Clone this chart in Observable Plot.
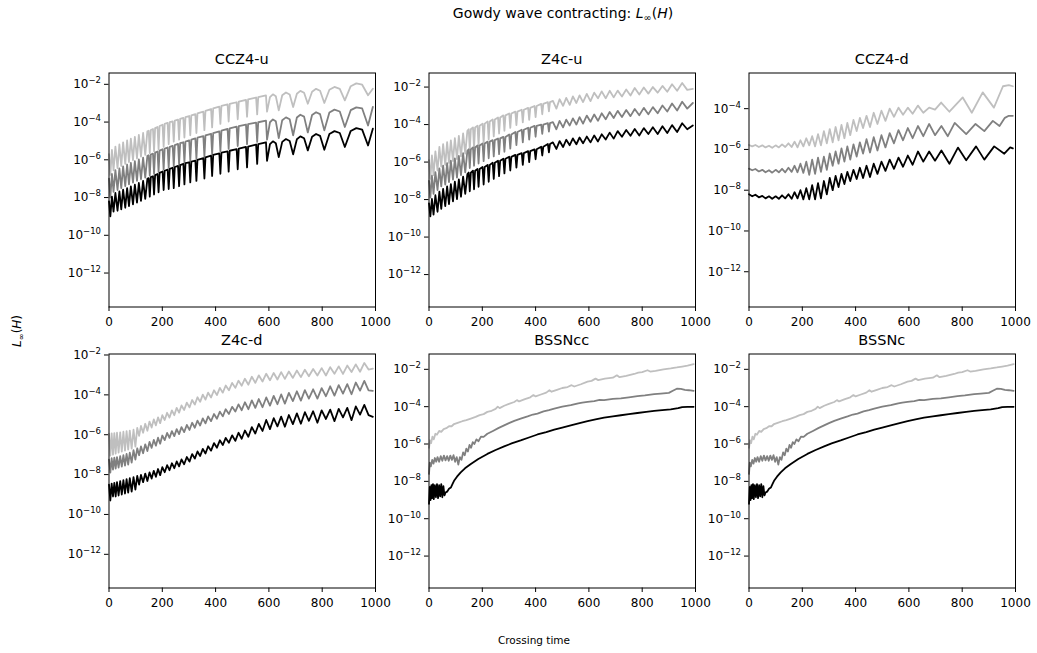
<!DOCTYPE html>
<html><head><meta charset="utf-8">
<script src="https://cdn.jsdelivr.net/npm/d3@7"></script>
<script src="https://cdn.jsdelivr.net/npm/@observablehq/plot@0.6"></script>
<style>
html,body{margin:0;padding:0;background:#fff;}
#fig{position:relative;width:1037px;height:653px;overflow:hidden;background:#fff;font-family:"DejaVu Sans",sans-serif;}
</style></head>
<body><div id="fig"></div>
<script>
// ---------- data: time (crossing time) and log10 L_inf(H) ----------
const xTicks = [0, 200, 400, 600, 800, 1000];
const yTickExps = [-2, -4, -6, -8, -10, -12];

// CCZ4-u (shared time grid)
const ccz4u_t = [0,5,11,17,24,32,39,46,53,61,68,75,82,90,97,105,112,120,128,136,144,
149,153,157,165,169,173,182,186,190,201,205,209,220,224,228,239,243,247,259,263,267,279,283,287,301,305,309,324,328,332,354,358,362,383,387,391,414,418,422,445,449,453,479,483,487,514,518,522,552,556,560,589,593,
604,615,626,637,650,664,678,691,705,718,732,746,762,777,792,808,827,846,866,885,907,928,950,972,990];
const ccz4u_light = [-5.7,-6.8,-5.48,-6.56,-5.3,-6.44,-5.19,-6.33,-5.08,-6.22,-4.97,-6.12,-4.88,-6.02,-4.78,-5.93,-4.68,-5.83,-4.58,-5.74,-4.49,
-4.46,-5.64,-4.42,-4.37,-5.54,-4.32,-4.26,-5.44,-4.21,-4.14,-5.31,-4.09,-4.04,-5.17,-4.0,-3.96,-5.04,-3.92,-3.87,-4.93,-3.83,-3.78,-4.82,-3.74,-3.68,-4.7,-3.64,-3.58,-4.58,-3.54,-3.45,-4.43,-3.41,-3.31,-4.28,-3.27,-3.18,-4.1,-3.14,-3.06,-3.97,-3.04,-2.95,-3.85,-2.92,-2.82,-3.72,-2.8,-2.7,-3.59,-2.68,
-2.59,-3.45,
-2.68,-2.53,-2.63,-3.38,-2.58,-2.43,-2.54,-3.2,-2.5,-2.35,-2.45,-3.03,-2.39,-2.24,-2.34,-2.99,-2.29,-2.14,-2.24,-2.85,-2.1,-1.95,-2.02,-2.58,-2.23];
const ccz4u_mid = [-7.0,-8.0,-6.75,-7.7,-6.55,-7.6,-6.45,-7.5,-6.35,-7.4,-6.25,-7.3,-6.16,-7.21,-6.07,-7.12,-5.98,-7.03,-5.88,-6.94,-5.79,
-5.76,-6.84,-5.72,-5.67,-6.74,-5.62,-5.56,-6.64,-5.51,-5.44,-6.52,-5.4,-5.35,-6.43,-5.31,-5.26,-6.34,-5.22,-5.16,-6.24,-5.12,-5.07,-6.15,-5.03,-4.97,-6.05,-4.93,-4.87,-5.95,-4.83,-4.75,-5.83,-4.71,-4.62,-5.7,-4.58,-4.49,-5.55,-4.45,-4.36,-5.42,-4.33,-4.24,-5.27,-4.21,-4.13,-5.17,-4.11,-4.03,-5.05,-4.01,
-3.92,-4.93,
-4.01,-3.86,-3.96,-4.85,-3.9,-3.75,-3.85,-4.7,-3.76,-3.61,-3.71,-4.55,-3.63,-3.48,-3.58,-4.44,-3.49,-3.34,-3.44,-4.26,-3.37,-3.22,-3.28,-4.18,-3.2];
const ccz4u_dark = [-8.2,-9.0,-7.95,-8.75,-7.76,-8.7,-7.67,-8.63,-7.58,-8.54,-7.5,-8.45,-7.41,-8.36,-7.32,-8.27,-7.23,-8.18,-7.12,-8.07,-7.01,
-6.97,-7.95,-6.92,-6.87,-7.84,-6.81,-6.75,-7.72,-6.69,-6.62,-7.6,-6.58,-6.52,-7.55,-6.48,-6.42,-7.5,-6.38,-6.32,-7.4,-6.28,-6.22,-7.3,-6.18,-6.13,-7.2,-6.09,-6.04,-7.12,-6.0,-5.91,-6.99,-5.87,-5.78,-6.86,-5.74,-5.66,-6.74,-5.62,-5.55,-6.63,-5.52,-5.44,-6.5,-5.41,-5.32,-6.4,-5.3,-5.19,-6.22,-5.17,
-5.07,-6.05,
-5.17,-5.02,-5.12,-5.86,-5.05,-4.9,-5.0,-5.71,-4.91,-4.76,-4.86,-5.5,-4.78,-4.63,-4.73,-5.47,-4.63,-4.48,-4.58,-5.32,-4.47,-4.32,-4.4,-5.24,-4.35];

// Z4c-u (shared time grid)
const z4cu_t = [0,5,11,17,24,32,39,46,53,61,68,75,82,90,97,105,112,120,128,136,144,
149,153,157,165,169,173,182,186,190,201,205,209,220,224,228,239,243,247,259,263,267,279,283,287,301,305,309,324,328,332,348,352,356,372,376,380,396,400,404,421,425,429,446,450,454,
465,478,490,503,515,528,540,553,565,578,592,606,620,634,648,663,678,693,708,724,740,756,772,789,806,823,840,858,876,894,912,931,950,969,990];
const z4cu_light = [-5.9,-6.9,-5.65,-6.7,-5.43,-6.45,-5.19,-6.25,-5.04,-6.15,-4.94,-6.05,-4.84,-5.95,-4.73,-5.85,-4.6,-5.7,-4.47,-5.55,-4.33,
-4.25,-5.35,-4.25,-4.15,-5.23,-4.15,-4.06,-5.1,-4.06,-3.95,-4.95,-3.95,-3.84,-4.8,-3.84,-3.73,-4.63,-3.73,-3.62,-4.48,-3.62,-3.51,-4.33,-3.51,-3.41,-4.18,-3.41,-3.31,-4.03,-3.31,-3.21,-3.88,-3.21,-3.11,-3.75,-3.11,-3.01,-3.6,-3.01,-2.9,-3.45,-2.9,-2.8,-3.3,-2.8,
-2.74,-3.15,-2.65,-3.0,-2.58,-2.95,-2.5,-2.85,-2.44,-2.8,-2.36,-2.75,-2.3,-2.6,-2.23,-2.6,-2.2,-2.55,-2.19,-2.5,-2.13,-2.45,-2.05,-2.4,-2.02,-2.35,-2.0,-2.3,-1.94,-2.25,-1.85,-2.2,-1.78,-2.15,-2.1];
const z4cu_mid = [-7.0,-7.9,-6.73,-7.7,-6.54,-7.5,-6.34,-7.3,-6.19,-7.2,-6.06,-7.07,-5.93,-6.94,-5.8,-6.83,-5.67,-6.7,-5.53,-6.55,-5.4,
-5.32,-6.32,-5.32,-5.22,-6.2,-5.22,-5.12,-6.08,-5.12,-5.01,-5.95,-5.01,-4.91,-5.8,-4.91,-4.83,-5.7,-4.83,-4.74,-5.58,-4.74,-4.66,-5.45,-4.66,-4.53,-5.28,-4.53,-4.4,-5.1,-4.4,-4.28,-4.95,-4.28,-4.17,-4.8,-4.17,-4.07,-4.65,-4.07,-4.0,-4.5,-4.0,-3.92,-4.38,-3.92,
-3.87,-4.25,-3.8,-4.15,-3.74,-4.05,-3.67,-4.0,-3.6,-3.95,-3.52,-3.85,-3.46,-3.8,-3.4,-3.72,-3.33,-3.65,-3.27,-3.6,-3.22,-3.55,-3.17,-3.5,-3.11,-3.45,-3.07,-3.4,-2.98,-3.3,-2.88,-3.25,-2.78,-3.15,-2.85];
const z4cu_dark = [-8.2,-8.9,-7.97,-8.8,-7.77,-8.65,-7.58,-8.5,-7.43,-8.35,-7.3,-8.24,-7.18,-8.1,-7.04,-7.98,-6.92,-7.85,-6.78,-7.7,-6.64,
-6.56,-7.56,-6.56,-6.46,-7.45,-6.46,-6.37,-7.32,-6.37,-6.26,-7.2,-6.26,-6.15,-7.05,-6.15,-6.04,-6.9,-6.04,-5.93,-6.75,-5.93,-5.82,-6.6,-5.82,-5.72,-6.45,-5.72,-5.62,-6.3,-5.62,-5.52,-6.15,-5.52,-5.42,-6.0,-5.42,-5.32,-5.85,-5.32,-5.18,-5.65,-5.18,-5.04,-5.48,-5.04,
-4.95,-5.3,-4.88,-5.2,-4.81,-5.1,-4.74,-5.05,-4.69,-5.0,-4.64,-4.95,-4.58,-4.9,-4.52,-4.8,-4.43,-4.75,-4.35,-4.65,-4.29,-4.6,-4.24,-4.58,-4.19,-4.5,-4.14,-4.5,-4.09,-4.45,-4.03,-4.4,-3.93,-4.25,-4.05];

// CCZ4-d (one time array per series)
const ccz4d_light_t = [0,12,24,37,50,62,75,87,100,112,124,136,148,160,171,182,193,204,215,226,237,248,259,270,281,292,303,314,325,336,347,358,369,380,392,404,416,428,441,454,468,482,497,512,528,544,561,578,596,614,634,654,676,698,721,752,802,836,877,919,953,975,990];
const ccz4d_light = [-5.78,-5.85,-5.78,-5.88,-5.8,-5.9,-5.82,-5.92,-5.8,-5.9,-5.75,-5.88,-5.7,-5.88,-5.62,-5.9,-5.55,-5.85,-5.45,-5.8,-5.35,-5.85,-5.25,-5.8,-5.1,-5.7,-5.0,-5.65,-4.9,-5.55,-4.8,-5.45,-4.7,-5.3,-4.55,-5.1,-4.45,-4.95,-4.35,-4.9,-4.2,-4.75,-4.1,-4.6,-4.0,-4.4,-3.95,-4.3,-3.95,-4.25,-3.85,-4.2,-3.95,-4.05,-3.7,-4.15,-3.45,-4.2,-3.2,-3.95,-2.9,-2.85,-2.9];
const ccz4d_mid_t = [0,12,24,37,50,62,75,87,100,112,124,136,148,160,171,182,193,204,215,226,237,248,259,270,281,292,303,314,325,336,347,358,369,380,392,404,416,428,441,454,468,482,497,512,528,544,561,578,596,614,634,654,676,698,722,746,772,815,850,883,915,940,960,975,990];
const ccz4d_mid = [-6.94,-7.02,-6.96,-7.08,-7.0,-7.12,-7.02,-7.14,-7.0,-7.12,-6.95,-7.12,-6.9,-7.1,-6.8,-7.12,-6.7,-7.15,-6.6,-7.25,-6.5,-7.2,-6.4,-7.1,-6.35,-7.0,-6.2,-6.8,-6.1,-6.7,-5.95,-6.6,-5.85,-6.5,-5.75,-6.35,-5.65,-6.2,-5.5,-6.15,-5.4,-6.05,-5.3,-5.9,-5.2,-5.7,-5.05,-5.55,-4.95,-5.45,-4.85,-5.35,-4.75,-5.3,-4.85,-5.35,-4.7,-5.25,-4.75,-5.1,-4.6,-4.85,-4.45,-4.35,-4.35];
const ccz4d_dark_t = [0,12,24,37,50,62,75,87,100,112,124,136,148,160,171,182,193,204,215,226,237,248,259,270,281,292,303,314,325,336,347,358,369,380,392,404,416,428,441,454,468,482,497,512,528,544,561,578,596,614,634,654,676,698,722,752,784,815,852,883,920,958,980,990];
const ccz4d_dark = [-8.2,-8.3,-8.22,-8.35,-8.28,-8.4,-8.3,-8.42,-8.3,-8.42,-8.25,-8.4,-8.2,-8.42,-8.1,-8.4,-8.0,-8.45,-7.9,-8.45,-7.75,-8.45,-7.65,-8.4,-7.55,-8.2,-7.4,-8.0,-7.3,-7.85,-7.2,-7.7,-7.1,-7.55,-7.0,-7.45,-6.9,-7.4,-6.8,-7.35,-6.7,-7.2,-6.6,-7.05,-6.5,-6.95,-6.4,-6.85,-6.3,-6.75,-6.1,-6.6,-6.1,-6.55,-6.05,-6.7,-5.91,-6.53,-5.85,-6.5,-5.85,-6.21,-5.9,-5.95];

// Z4c-d (shared time grid)
const z4cd_t = [0,5,10,15,20,25,30,36,42,48,54,60,66,72,78,85,92,99,106,113,120,128,136,144,152,160,168,176,184,192,200,209,218,227,236,245,254,263,272,282,292,302,312,322,332,342,352,362,372,383,394,405,416,427,438,450,462,474,486,498,510,523,536,549,562,576,590,604,618,632,646,660,675,690,705,720,735,750,766,782,798,814,830,846,862,878,894,910,926,942,958,974,990];
const z4cd_light = [-5.95,-7.05,-5.93,-7.0,-5.92,-6.95,-5.9,-6.9,-5.88,-6.85,-5.85,-6.8,-5.82,-6.75,-5.79,-6.7,-5.75,-6.6,-5.66,-6.06,-5.56,-5.9,-5.45,-5.8,-5.34,-5.64,-5.23,-5.53,-5.13,-5.42,-5.02,-5.26,-4.9,-5.14,-4.78,-5.02,-4.65,-4.89,-4.53,-4.76,-4.39,-4.63,-4.26,-4.49,-4.12,-4.35,-3.99,-4.24,-3.89,-4.13,-3.77,-4.01,-3.65,-3.89,-3.53,-3.77,-3.4,-3.65,-3.29,-3.54,-3.19,-3.49,-3.09,-3.4,-3.02,-3.33,-2.94,-3.27,-2.9,-3.23,-2.86,-3.2,-2.83,-3.15,-2.78,-3.11,-2.74,-3.07,-2.7,-3.03,-2.66,-3.03,-2.61,-2.94,-2.57,-2.95,-2.53,-2.85,-2.47,-2.84,-2.4,-2.73,-2.68];
const z4cd_mid = [-7.25,-7.9,-7.18,-7.75,-7.15,-7.7,-7.12,-7.65,-7.07,-7.6,-7.02,-7.55,-6.96,-7.5,-6.9,-7.4,-6.77,-7.25,-6.68,-7.03,-6.59,-6.93,-6.48,-6.82,-6.36,-6.66,-6.26,-6.55,-6.15,-6.45,-6.04,-6.27,-5.91,-6.16,-5.82,-6.07,-5.72,-5.97,-5.62,-5.87,-5.51,-5.76,-5.4,-5.65,-5.29,-5.54,-5.18,-5.43,-5.08,-5.32,-4.96,-5.2,-4.84,-5.08,-4.72,-4.96,-4.6,-4.84,-4.48,-4.77,-4.37,-4.72,-4.28,-4.65,-4.21,-4.62,-4.13,-4.54,-4.05,-4.47,-3.98,-4.44,-3.9,-4.31,-3.82,-4.29,-3.76,-4.19,-3.72,-4.19,-3.66,-4.07,-3.57,-4.04,-3.51,-3.94,-3.46,-3.97,-3.38,-3.79,-3.3,-3.78,-3.8];
const z4cd_dark = [-8.5,-9.3,-8.45,-9.1,-8.42,-9.1,-8.38,-9.05,-8.33,-9.0,-8.28,-8.95,-8.23,-8.9,-8.18,-8.85,-8.13,-8.75,-8.07,-8.5,-8.02,-8.38,-7.95,-8.32,-7.89,-8.2,-7.81,-8.11,-7.72,-8.03,-7.63,-7.88,-7.53,-7.78,-7.43,-7.68,-7.34,-7.59,-7.24,-7.48,-7.12,-7.35,-6.97,-7.2,-6.84,-7.07,-6.71,-6.94,-6.58,-6.8,-6.42,-6.65,-6.28,-6.52,-6.16,-6.4,-6.03,-6.31,-5.9,-6.2,-5.79,-6.1,-5.62,-5.94,-5.46,-5.81,-5.26,-5.72,-5.17,-5.58,-5.09,-5.6,-5.01,-5.47,-4.93,-5.45,-4.87,-5.3,-4.82,-5.4,-4.78,-5.21,-4.74,-5.32,-4.7,-5.13,-4.65,-5.27,-4.58,-4.99,-4.5,-5.02,-5.1];

// BSSNcc (one time array per series)
const bssncc_light_t = [0,4,8,13,18,24,30,38,46,55,65,75,85,94,110,125,140,157,175,190,205,219,235,250,258,265,282,300,320,330,338,360,380,392,400,420,440,452,460,480,500,520,535,545,570,595,610,625,635,660,690,705,715,740,770,785,800,820,830,850,880,907,930,950,970,993];
const bssncc_light = [-6.2,-5.8,-5.95,-5.6,-5.75,-5.45,-5.5,-5.3,-5.35,-5.2,-5.15,-5.05,-5.05,-4.93,-4.85,-4.78,-4.72,-4.64,-4.55,-4.45,-4.4,-4.28,-4.22,-4.12,-4.0,-4.08,-3.95,-3.85,-3.75,-3.65,-3.72,-3.6,-3.5,-3.38,-3.45,-3.35,-3.25,-3.12,-3.2,-3.1,-3.0,-2.95,-2.85,-2.92,-2.8,-2.66,-2.62,-2.5,-2.58,-2.5,-2.45,-2.32,-2.42,-2.35,-2.25,-2.18,-2.15,-2.05,-2.12,-2.08,-2.0,-1.95,-1.9,-1.85,-1.8,-1.72];
const bssncc_mid_t = [0,3,7,12,17,22,27,32,38,44,50,56,62,68,74,80,86,92,98,104,110,116,122,128,134,140,146,152,158,164,170,178,186,195,205,219,240,260,282,300,320,344,370,390,407,430,450,470,500,532,560,575,595,620,640,657,690,720,750,782,810,845,870,900,915,930,945,960,975,993];
const bssncc_mid = [-7.6,-7.0,-7.2,-6.85,-7.05,-6.75,-6.95,-6.7,-6.95,-6.65,-6.9,-6.62,-6.88,-6.65,-6.9,-6.62,-6.85,-6.6,-6.95,-6.7,-7.1,-6.7,-6.85,-6.45,-6.6,-6.25,-6.4,-6.05,-6.2,-5.9,-6.0,-5.75,-5.85,-5.6,-5.62,-5.45,-5.3,-5.15,-5.0,-4.88,-4.76,-4.64,-4.52,-4.42,-4.37,-4.25,-4.18,-4.1,-4.0,-3.92,-3.82,-3.78,-3.74,-3.7,-3.64,-3.65,-3.58,-3.56,-3.5,-3.44,-3.4,-3.33,-3.3,-3.26,-3.15,-3.04,-3.05,-3.1,-3.12,-3.15];
const bssncc_dark_t = [0,3,6,9,12,15,18,22,26,30,34,38,42,46,50,54,58,62,68,75,82,88,94,105,119,135,157,185,219,250,282,310,344,375,407,440,470,500,532,565,595,625,657,690,720,750,782,815,845,875,907,935,950,970,993];
const bssncc_dark = [-9.2,-8.3,-9.0,-8.2,-8.9,-8.15,-8.95,-8.2,-8.85,-8.15,-8.9,-8.2,-8.8,-8.15,-8.85,-8.25,-8.75,-8.6,-8.55,-8.4,-8.33,-8.15,-7.97,-7.75,-7.52,-7.3,-7.07,-6.8,-6.53,-6.32,-6.13,-5.97,-5.81,-5.65,-5.49,-5.36,-5.23,-5.12,-5.0,-4.88,-4.77,-4.68,-4.59,-4.52,-4.46,-4.4,-4.34,-4.28,-4.23,-4.19,-4.14,-4.08,-4.02,-4.01,-4.01];

// BSSNc: curves read as indistinguishable from BSSNcc in the picture
const bssnc_light_t = bssncc_light_t, bssnc_light = bssncc_light;
const bssnc_mid_t = bssncc_mid_t, bssnc_mid = bssncc_mid;
const bssnc_dark_t = bssncc_dark_t, bssnc_dark = bssncc_dark;

// panel titles and log10 y-limits
const titles = ["CCZ4-u", "Z4c-u", "CCZ4-d", "Z4c-d", "BSSNcc", "BSSNc"];
const yLimits = [[-13.8, -1.4], [-13.73, -1.25], [-13.73, -2.25], [-13.69, -1.95], [-13.71, -1.18], [-13.71, -1.18]];

const panels = [
  {light: [ccz4u_t, ccz4u_light], mid: [ccz4u_t, ccz4u_mid], dark: [ccz4u_t, ccz4u_dark]},
  {light: [z4cu_t, z4cu_light], mid: [z4cu_t, z4cu_mid], dark: [z4cu_t, z4cu_dark]},
  {light: [ccz4d_light_t, ccz4d_light], mid: [ccz4d_mid_t, ccz4d_mid], dark: [ccz4d_dark_t, ccz4d_dark]},
  {light: [z4cd_t, z4cd_light], mid: [z4cd_t, z4cd_mid], dark: [z4cd_t, z4cd_dark]},
  {light: [bssncc_light_t, bssncc_light], mid: [bssncc_mid_t, bssncc_mid], dark: [bssncc_dark_t, bssncc_dark]},
  {light: [bssnc_light_t, bssnc_light], mid: [bssnc_mid_t, bssnc_mid], dark: [bssnc_dark_t, bssnc_dark]}
];

// ---------- layout / style ----------
const colors = {light: "#bfbfbf", mid: "#808080", dark: "#000000"};
const W = 352, H = 274, ML = 60.5, MR = 25, MT = 10.5, MB = 29.5;
const pos = [[48, 62], [368, 62], [688, 62], [48, 343], [368, 343], [688, 343]];
const fig = document.getElementById("fig");
const NS = "http://www.w3.org/2000/svg";

panels.forEach((p, k) => {
  const marks = [];
  for (const key of ["light", "mid", "dark"]) {
    const [ts, ls] = p[key];
    const data = ts.map((t, i) => ({t, v: Math.pow(10, ls[i])}));
    marks.push(Plot.line(data, {x: "t", y: "v", stroke: colors[key], strokeWidth: 1.8}));
  }
  marks.push(Plot.frame({stroke: "black", strokeWidth: 1}));
  const [lo, hi] = yLimits[k];
  const yt = yTickExps.filter(e => e >= lo && e <= hi).map(e => Math.pow(10, e));
  const chart = Plot.plot({
    width: W, height: H,
    marginLeft: ML, marginRight: MR, marginTop: MT, marginBottom: MB,
    style: {background: "transparent", fontFamily: "DejaVu Sans", fontSize: "12px", color: "black", overflow: "visible"},
    x: {domain: [0, 1000], ticks: xTicks, tickFormat: d => String(d), tickSize: 4.5, tickPadding: 6, label: null},
    y: {type: "log", domain: [Math.pow(10, lo), Math.pow(10, hi)], ticks: yt,
        tickFormat: d => "10^" + Math.round(Math.log10(d)), tickSize: 4.5, tickPadding: 3.5, label: null},
    marks
  });
  chart.style.position = "absolute";
  chart.style.left = pos[k][0] + "px";
  chart.style.top = pos[k][1] + "px";
  chart.style.maxWidth = "none";
  // superscript exponents
  chart.querySelectorAll("text").forEach(el => {
    const s = el.textContent;
    if (!s.startsWith("10^")) return;
    const e = s.slice(3).replace("-", "\u2212");
    el.textContent = "";
    const a = document.createElementNS(NS, "tspan"); a.textContent = "10";
    const b = document.createElementNS(NS, "tspan"); b.textContent = e;
    b.setAttribute("dy", "-5"); b.setAttribute("font-size", "8.5px");
    el.appendChild(a); el.appendChild(b);
  });
  fig.appendChild(chart);
});

// ---------- titles and labels ----------
const ov = d3.select(fig).append("svg")
  .attr("width", 1037).attr("height", 653)
  .style("position", "absolute").style("left", "0px").style("top", "0px")
  .style("font-family", "DejaVu Sans").style("pointer-events", "none");

function mathL(sel, fs) {
  sel.append("tspan").attr("font-style", "italic").text("L");
  sel.append("tspan").attr("font-size", (fs * 0.7) + "px").attr("dy", fs * 0.22).text("\u221E");
  sel.append("tspan").attr("dy", -fs * 0.22).text("(");
  sel.append("tspan").attr("font-style", "italic").text("H");
  sel.append("tspan").text(")");
}
const st = ov.append("text").attr("x", 563).attr("y", 18).attr("text-anchor", "middle").attr("font-size", "14px");
st.append("tspan").text("Gowdy wave contracting: ");
mathL(st, 14);

titles.forEach((tt, k) => {
  ov.append("text")
    .attr("x", pos[k][0] + ML + (W - ML - MR) / 2)
    .attr("y", pos[k][1] + MT - 8.5)
    .attr("text-anchor", "middle").attr("font-size", "14.5px").text(tt);
});

ov.append("text").attr("x", 534).attr("y", 644).attr("text-anchor", "middle").attr("font-size", "10.5px").text("Crossing time");
const yl = ov.append("text").attr("transform", "translate(21,331) rotate(-90)").attr("text-anchor", "middle").attr("font-size", "12px");
mathL(yl, 12);
</script>
</body></html>
